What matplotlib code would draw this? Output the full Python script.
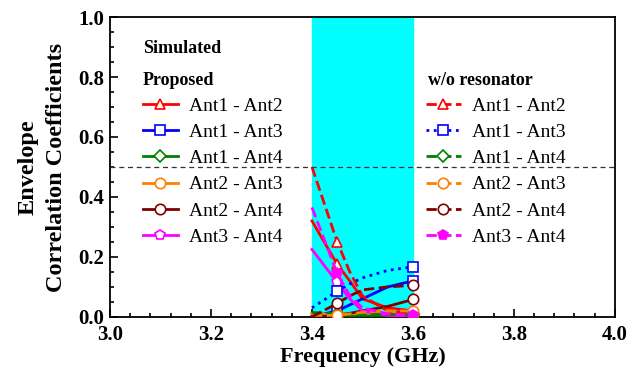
import matplotlib
matplotlib.use("Agg")
import matplotlib.pyplot as plt
from matplotlib.ticker import MultipleLocator

plt.rcParams["font.family"] = ["Liberation Serif", "DejaVu Serif"]

# frequency samples inside the band (GHz)
freq = [3.40, 3.45, 3.475, 3.50, 3.55, 3.60]

# proposed antenna
p12 = [0.32, 0.175, 0.12, 0.06, 0.03, 0.02]
p13 = [0.0, 0.02, 0.04, 0.06, 0.10, 0.12]
p14 = [0.01, 0.005, 0.005, 0.005, 0.005, 0.005]
p23 = [0.01, 0.008, 0.01, 0.012, 0.012, 0.01]
p24 = [0.0, 0.005, 0.012, 0.02, 0.035, 0.058]
p34 = [0.225, 0.115, 0.06, 0.02, 0.005, 0.002]

# without resonator
w12 = [0.50, 0.25, 0.15, 0.07, 0.02, 0.01]
w13 = [0.03, 0.085, 0.11, 0.13, 0.155, 0.167]
w14 = [0.015, 0.01, 0.008, 0.008, 0.008, 0.008]
w23 = [0.005, 0.005, 0.01, 0.015, 0.02, 0.02]
w24 = [0.0, 0.045, 0.07, 0.09, 0.10, 0.105]
w34 = [0.365, 0.145, 0.07, 0.03, 0.01, 0.005]

labels = ["Ant1 - Ant2", "Ant1 - Ant3", "Ant1 - Ant4",
          "Ant2 - Ant3", "Ant2 - Ant4", "Ant3 - Ant4"]
colors = ["#FF0000", "#0000FF", "#008000", "#FF8000", "#800000", "#FF00FF"]
markers = ["^", "s", "D", "o", "o", "p"]
w_styles = ["--", ":", "--", "--", "--", "--"]

fig = plt.figure(figsize=(6.3, 3.75), dpi=100)
ax = fig.add_axes([0.1746, 0.155, 0.8014, 0.7995])

ax.axvspan(3.4, 3.6, color="#00FFFF", zorder=0)
ax.axhline(0.5, color="#333333", ls=(0, (4, 3)), lw=0.9, zorder=5)

prop_lines = []
for y, c, m, lab in zip([p12, p13, p14, p23, p24, p34], colors, markers, labels):
    ms = 6.5 if m == "D" else 7.5
    ln, = ax.plot(freq, y, color=c, lw=2, marker=m, ms=ms, mfc="white",
                  mec=c, mew=1.2, markevery=[1, 5], label=lab, zorder=3)
    prop_lines.append(ln)

wo_lines = []
for i, (y, c, m, ls, lab) in enumerate(zip([w12, w13, w14, w23, w24, w34],
                                            colors, markers, w_styles, labels)):
    mfc = c if i == 5 else "white"
    ms = 6.5 if m == "D" else 7.5
    ln, = ax.plot(freq, y, color=c, lw=2, ls=ls, marker=m, ms=ms, mfc=mfc,
                  mec=c, mew=1.2, markevery=[1, 5], label=lab, zorder=3)
    wo_lines.append(ln)

leg_kw = dict(frameon=False, fontsize=14, handlelength=1.8, labelspacing=0.44,
              handletextpad=0.6, borderaxespad=0.0, borderpad=0.0)
leg1 = ax.legend(handles=prop_lines, loc="center left",
                 bbox_to_anchor=(0.065, 0.485), **leg_kw)
ax.add_artist(leg1)
ax.legend(handles=wo_lines, loc="center left",
          bbox_to_anchor=(0.625, 0.485), **leg_kw)

ax.text(0.065, 0.895, "Simulated", transform=ax.transAxes, fontsize=13,
        fontweight="bold", va="center")
ax.text(0.065, 0.79, "Proposed", transform=ax.transAxes, fontsize=13,
        fontweight="bold", va="center")
ax.text(0.63, 0.79, "w/o resonator", transform=ax.transAxes, fontsize=13,
        fontweight="bold", va="center")

ax.set_xlim(3.0, 4.0)
ax.set_ylim(0.0, 1.0)
ax.xaxis.set_major_locator(MultipleLocator(0.2))
ax.xaxis.set_minor_locator(MultipleLocator(0.04))
ax.yaxis.set_major_locator(MultipleLocator(0.2))
ax.yaxis.set_minor_locator(MultipleLocator(0.05))
ax.tick_params(which="both", direction="in", top=False, right=False, width=1.2)
ax.tick_params(which="major", length=6, labelsize=15)
ax.tick_params(axis="x", which="major", pad=6)
ax.tick_params(axis="y", which="major", pad=4)
ax.tick_params(which="minor", length=3)
for lab in ax.get_xticklabels() + ax.get_yticklabels():
    lab.set_fontweight("bold")
for sp in ax.spines.values():
    sp.set_linewidth(1.3)

ax.set_xlabel("Frequency (GHz)", fontsize=16, fontweight="bold", labelpad=1)
ax.set_ylabel("Envelope\nCorrelation Coefficients", fontsize=17.5,
              fontweight="bold", labelpad=8, linespacing=1.5)

fig.savefig("out.png", dpi=100)
